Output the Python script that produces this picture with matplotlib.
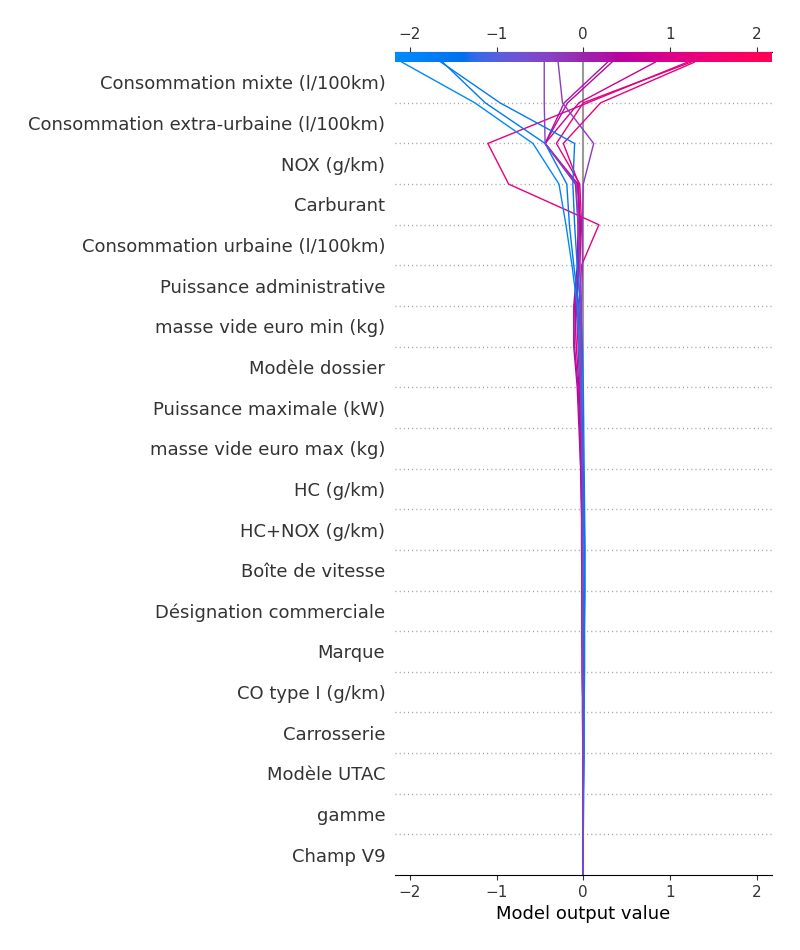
import numpy as np
import matplotlib
matplotlib.use("Agg")
import matplotlib.pyplot as plt
import matplotlib.cm as cm
from matplotlib.colors import LinearSegmentedColormap

# ---------------- data ----------------
feature_names = [
    "Champ V9", "gamme", "Modèle UTAC", "Carrosserie", "CO type I (g/km)",
    "Marque", "Désignation commerciale", "Boîte de vitesse", "HC+NOX (g/km)",
    "HC (g/km)", "masse vide euro max (kg)", "Puissance maximale (kW)",
    "Modèle dossier", "masse vide euro min (kg)", "Puissance administrative",
    "Consommation urbaine (l/100km)", "Carburant", "NOX (g/km)",
    "Consommation extra-urbaine (l/100km)", "Consommation mixte (l/100km)",
]

base_value = 0.0
xlim = (-2.17, 2.175)

# cumulative model output at each feature boundary (bottom = base value, top = final output)
obs_a = [0, 0, 0, 0.005, 0.005, 0.01, 0.01, 0.015, 0.01, 0.0, -0.01, -0.02, -0.03, -0.05, -0.07, -0.13, -0.20, -0.28, -0.58, -1.25, -2.09]
obs_b = [0, 0, 0.005, 0.01, 0.01, 0.015, 0.015, 0.02, 0.02, 0.015, 0.01, 0.005, 0.0, -0.01, -0.03, -0.07, -0.10, -0.12, -0.10, -0.96, -1.64]
obs_c = [0, 0, 0, 0.005, 0.005, 0.01, 0.01, 0.01, 0.015, 0.01, 0.0, -0.01, -0.02, -0.03, -0.05, -0.11, -0.16, -0.19, -0.44, -1.13, -1.62]
obs_d = [0, 0, 0, -0.005, -0.005, -0.01, -0.01, -0.01, -0.01, -0.01, -0.01, -0.02, -0.02, -0.03, -0.03, -0.04, -0.06, -0.08, -0.44, -0.45, -0.45]
obs_e = [0, 0, 0, 0, -0.005, -0.005, -0.01, -0.01, -0.01, -0.01, -0.01, -0.02, -0.02, -0.02, -0.02, -0.01, -0.01, 0.0, 0.12, -0.24, -0.29]
obs_f = [0, 0, 0, -0.005, -0.005, -0.01, -0.01, -0.01, -0.015, -0.02, -0.03, -0.04, -0.06, -0.10, -0.09, -0.06, -0.04, -0.06, -0.44, -0.22, 0.28]
obs_g = [0, 0, -0.005, -0.005, -0.01, -0.01, -0.015, -0.015, -0.02, -0.02, -0.03, -0.05, -0.07, -0.11, -0.11, -0.07, -0.06, -0.09, -0.44, -0.18, 0.33]
obs_h = [0, 0, 0, -0.005, -0.005, -0.01, -0.01, -0.01, -0.01, -0.02, -0.02, -0.03, -0.05, -0.08, -0.10, -0.05, -0.03, -0.07, -0.44, -0.05, 0.83]
obs_i = [0, 0, 0, -0.005, -0.005, -0.01, -0.01, -0.01, -0.01, -0.015, -0.02, -0.03, -0.04, -0.06, -0.08, -0.04, -0.02, -0.04, -0.31, 0.0, 1.24]
obs_j = [0, 0, 0, 0, -0.005, -0.005, -0.01, -0.01, -0.01, -0.015, -0.02, -0.02, -0.03, -0.05, -0.07, -0.06, -0.05, -0.05, -0.23, 0.20, 1.28]
obs_k = [0, 0, 0, 0, 0, -0.005, -0.005, -0.01, -0.01, -0.01, -0.02, -0.02, -0.03, -0.05, -0.05, -0.02, 0.18, -0.86, -1.10, 0.05, 1.20]

paths = [obs_k, obs_j, obs_i, obs_h, obs_g, obs_f, obs_a, obs_c, obs_b, obs_e, obs_d]


# ---------------- shap-like red/blue colormap (LCH interpolation) ----------------
def lch2rgb(l, c, h):
    a = c * np.cos(h)
    b = c * np.sin(h)
    fy = (l + 16.0) / 116.0
    fx = fy + a / 500.0
    fz = fy - b / 200.0

    def finv(t):
        return t ** 3 if t > 6.0 / 29.0 else 3 * (6.0 / 29.0) ** 2 * (t - 4.0 / 29.0)

    xyz = np.array([0.95047 * finv(fx), 1.0 * finv(fy), 1.08883 * finv(fz)])
    m = np.array([[3.2406, -1.5372, -0.4986],
                  [-0.9689, 1.8758, 0.0415],
                  [0.0557, -0.2040, 1.0570]])
    rgb = m @ xyz
    rgb = np.clip(rgb, 0, None)
    rgb = np.where(rgb > 0.0031308, 1.055 * np.power(rgb, 1 / 2.4) - 0.055, 12.92 * rgb)
    return np.clip(rgb, 0, 1)


blue_lch = [54.0, 70.0, 4.6588]
red_lch = [54.0, 90.0, 0.35470565 + 2 * np.pi]
l_mid = 40.0
nsteps = 100
l_vals = list(np.linspace(blue_lch[0], l_mid, nsteps // 2)) + list(np.linspace(l_mid, red_lch[0], nsteps // 2))
c_vals = np.linspace(blue_lch[1], red_lch[1], nsteps)
h_vals = np.linspace(blue_lch[2], red_lch[2], nsteps)
cols = [lch2rgb(l, c, h) for l, c, h in zip(l_vals, c_vals, h_vals)]
red_blue = LinearSegmentedColormap.from_list("red_blue", cols)

# ---------------- figure ----------------
fig = plt.figure(figsize=(8, 9.5), dpi=100)
ax = fig.add_axes([0.49375, 0.07895, 0.47125, 0.8663])

n = len(feature_names)
ax.axvline(x=base_value, color="#999999", zorder=-1)
for i in range(1, n):
    ax.axhline(y=i, color="#999999", lw=1.0, dashes=(0.7, 2.3), zorder=-1)

ax.set_xlim(xlim)
m = cm.ScalarMappable(cmap=red_blue)
m.set_clim(xlim)
y_pos = np.arange(0, n + 1)
for p in paths:
    ax.plot(p, y_pos, color=m.to_rgba(p[-1]), linewidth=1)

ax.xaxis.set_ticks_position("both")
ax.yaxis.set_ticks_position("none")
ax.spines["right"].set_visible(False)
ax.spines["left"].set_visible(False)
ax.tick_params(color="#333333", labelcolor="#333333", labeltop=True)
ax.set_yticks(np.arange(n) + 0.5)
ax.set_yticklabels(feature_names, fontsize=13)
ax.tick_params("x", labelsize=11)
ax.set_xticks([-2, -1, 0, 1, 2])
ax.set_xlabel("Model output value", fontsize=13)

ax.set_ylim(0, n + 0.25)
ax_cb = ax.inset_axes([xlim[0], n, xlim[1] - xlim[0], 0.25], transform=ax.transData)
mc = cm.ScalarMappable(cmap=red_blue)
mc.set_array(np.array([0, 1]))
cb = fig.colorbar(mc, cax=ax_cb, orientation="horizontal")
cb.set_ticks([])
cb.outline.set_visible(False)

fig.savefig("out.png", dpi=100)
